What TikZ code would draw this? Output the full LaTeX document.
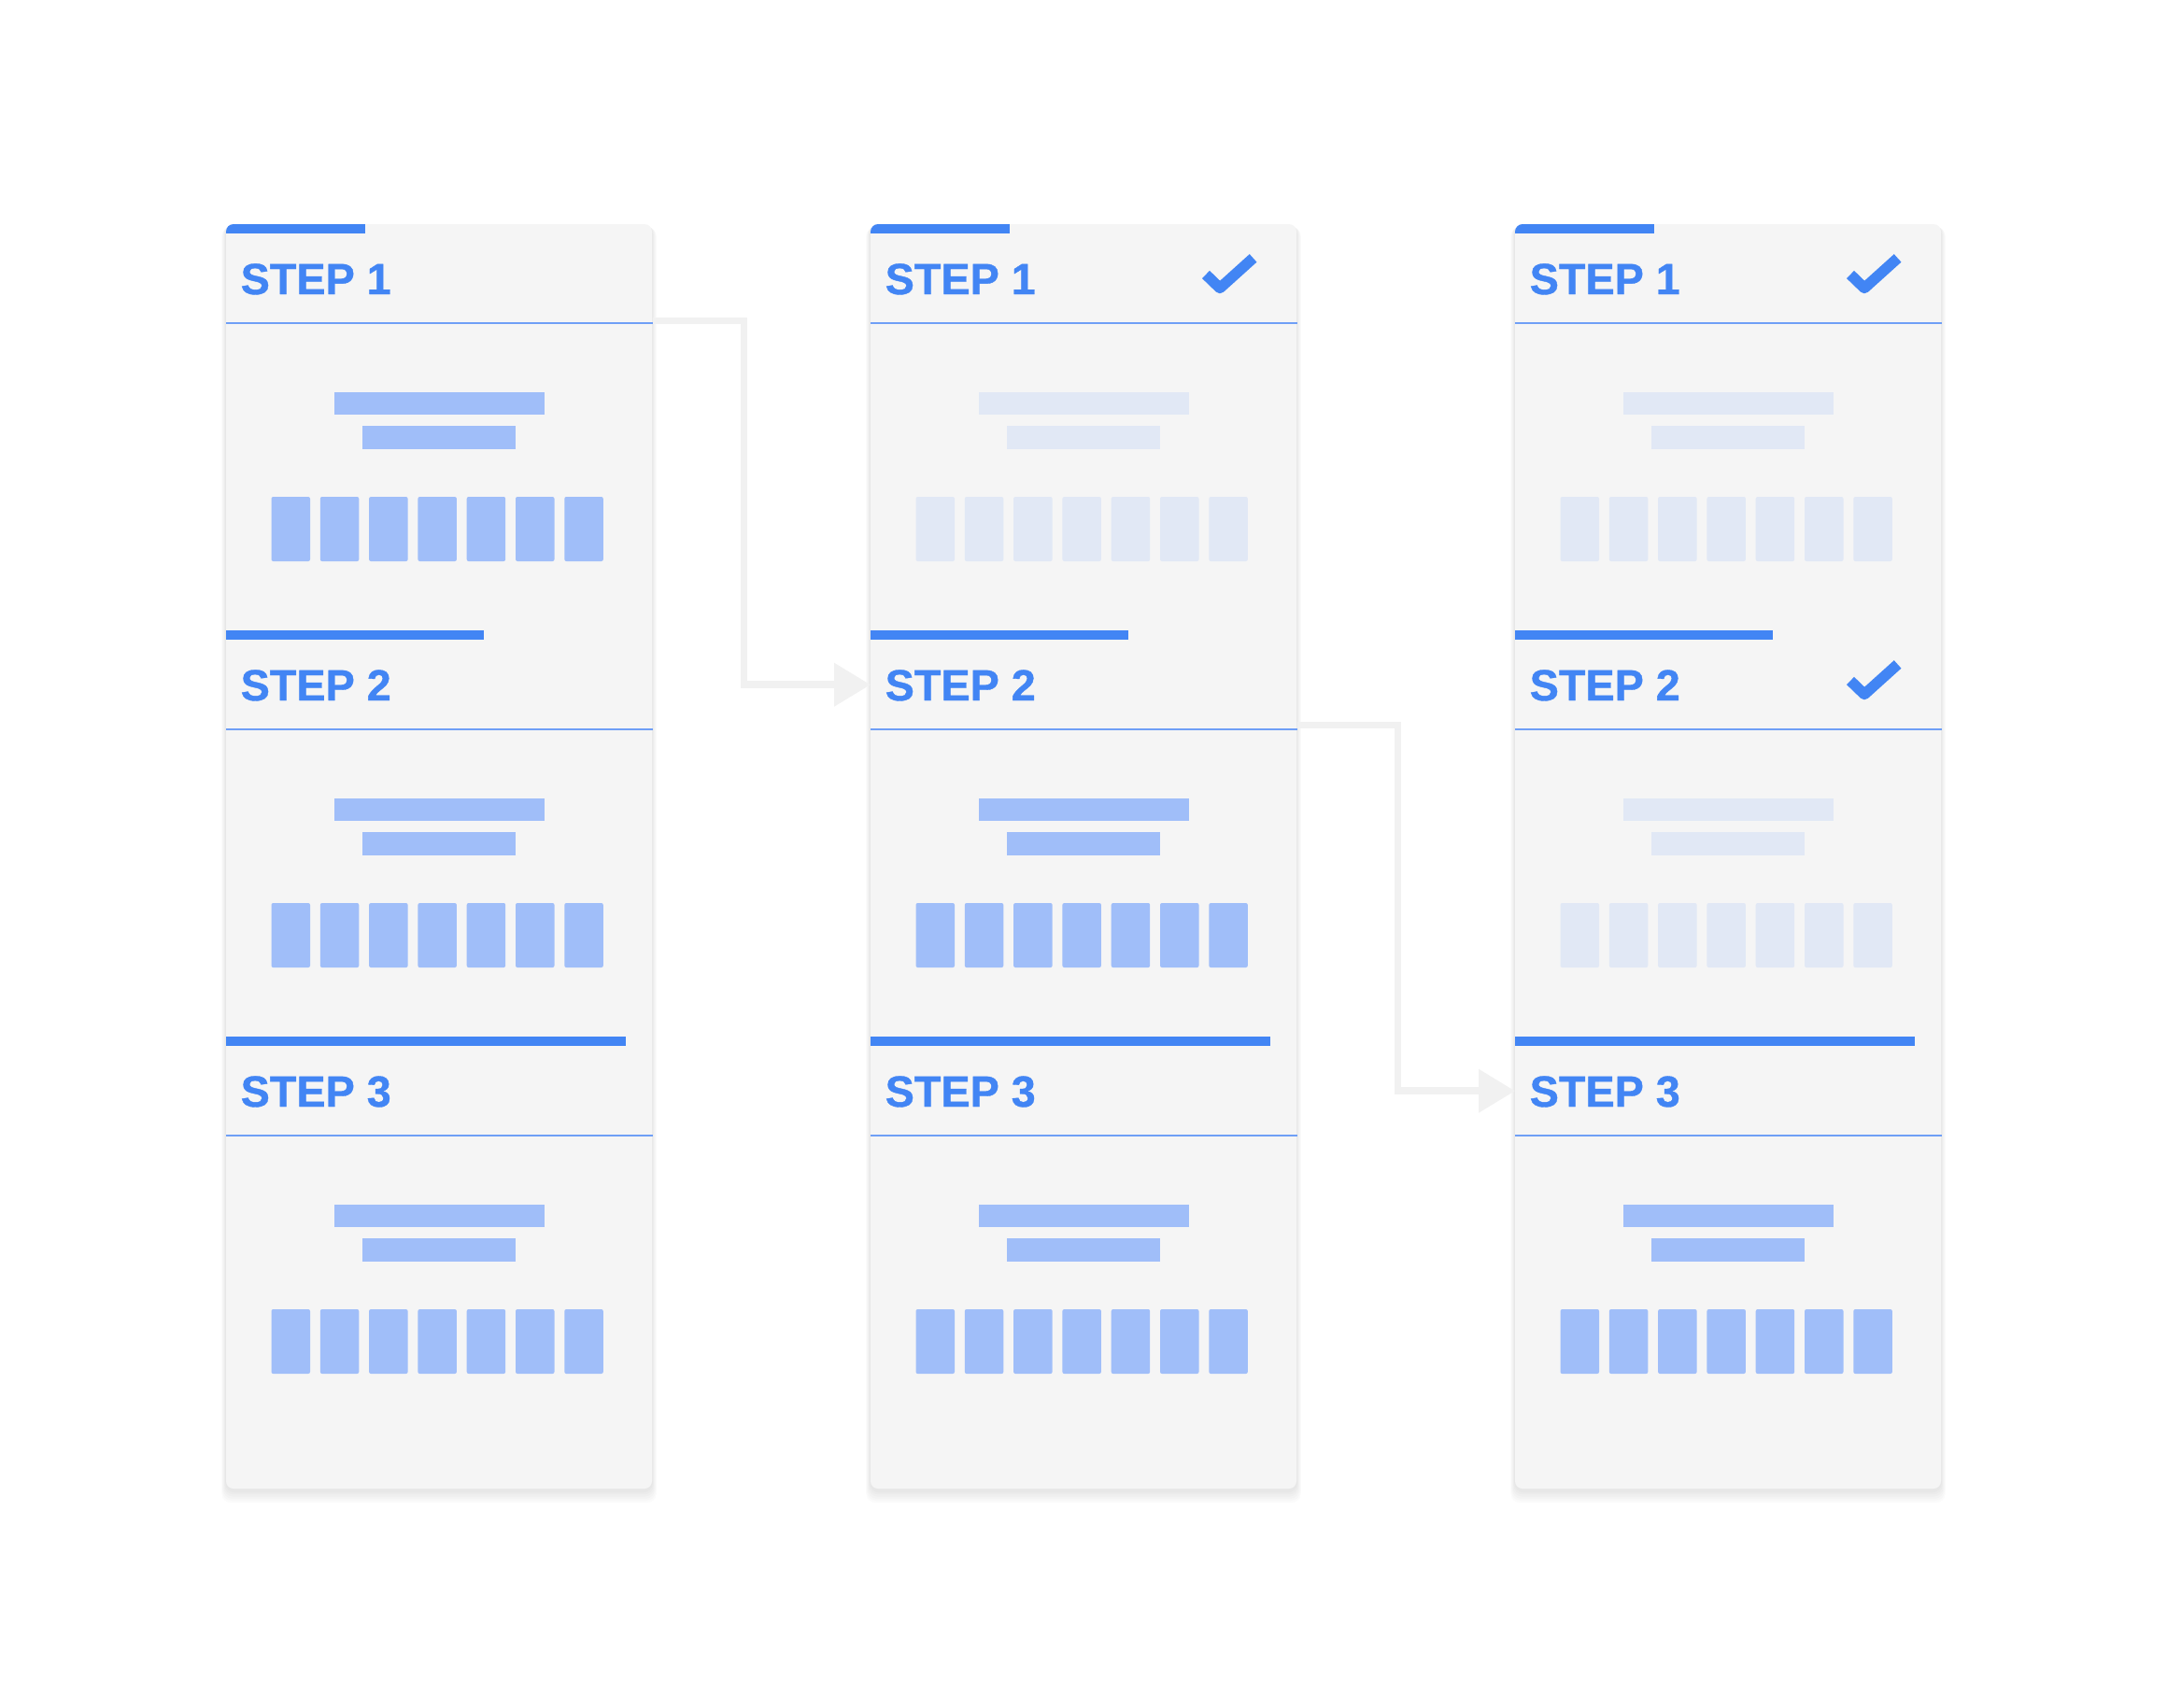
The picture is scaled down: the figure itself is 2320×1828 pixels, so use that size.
\documentclass[tikz,border=0pt]{standalone}
\usepackage{fontspec}
\setmainfont{Liberation Sans}
\newfontfamily\stepfont{Liberation Sans Bold}[FakeBold=0.8]
\usetikzlibrary{arrows.meta}
\definecolor{gblue}{HTML}{4285F4}
\definecolor{lblue}{HTML}{A0BEF9}
\definecolor{fblue}{HTML}{E1E8F5}
\definecolor{cardbg}{HTML}{F5F5F5}
\definecolor{linkgray}{HTML}{F1F1F1}
\definecolor{sepblue}{HTML}{6F9FF6}
\tikzset{
  hdr/.style={minimum width=45.6mm, minimum height=9.5mm, anchor=north west},
  steplabel/.style={anchor=base west, text=gblue, font=\fontsize{13.3}{14}\stepfont},
  link/.style={draw=linkgray, line width=0.75mm, -{Triangle[length=3.9mm, width=4.5mm]}},
  tick/.style={draw=gblue, line width=1.15mm, line join=round},
}
\begin{document}
\begin{tikzpicture}[x=0.1mm, y=0.1mm]
\tikzstyle{every node}+=[inner sep=0pt]
\useasboundingbox (0,0) rectangle (2320,-1828);
\foreach \p/\L/\done in {1/242/0, 2/932/1, 3/1622/2} {
  \foreach \i in {1,...,6}
    \fill[black, opacity=0.016, rounded corners=1mm] (\L-\i*0.8,-240-\i*0.5) rectangle (\L+456+\i*0.8,-1596-\i*2.2);
  \fill[cardbg, rounded corners=0.8mm] (\L,-240) rectangle (\L+456,-1594);
  \foreach \s/\w in {1/149, 2/276, 3/428} {
    \pgfmathsetmacro\y{-240-435*(\s-1)}
    \ifnum\s>\done\relax\def\fc{lblue}\else\def\fc{fblue}\fi
    \begin{scope}
      \clip[rounded corners=0.8mm] (\L,-240) rectangle (\L+456,-1594);
      \fill[gblue] (\L,\y) rectangle (\L+\w,\y-10);
    \end{scope}
    \node[hdr] (h\p-\s) at (\L,\y-10) {};
    \draw[sepblue, line width=0.2mm] (h\p-\s.south west) -- (h\p-\s.south east);
    \node[steplabel] (t\p-\s) at (\L+15,\y-75) {STEP \s};
    \fill[\fc] (\L+116,\y-180) rectangle (\L+341,\y-204);
    \fill[\fc] (\L+146,\y-216) rectangle (\L+310,\y-241);
    \foreach \k in {0,...,6}
      \fill[\fc, rounded corners=0.2mm] (\L+48.5+\k*52.3,\y-292) rectangle ++(41.5,-69);
    \ifnum\s>\done\relax\else
      \draw[tick] (\L+359,\y-54) -- (\L+374,\y-68.5) -- (\L+409.6,\y-36.4);
    \fi
  }
}
\draw[link] ([yshift=0.3mm]h1-1.south east) -- ++(97,0) |- (h2-2.west);
\draw[link] ([yshift=0.5mm]h2-2.south east) -- ++(107,0) |- (h3-3.west);
\end{tikzpicture}
\end{document}
